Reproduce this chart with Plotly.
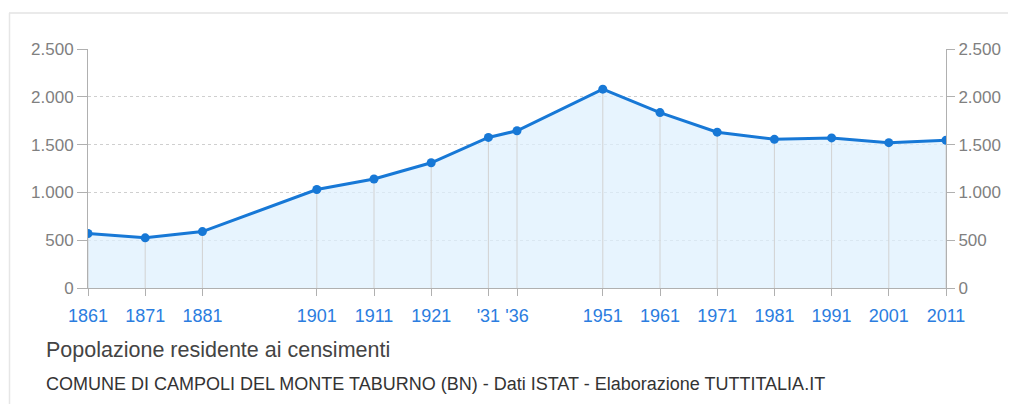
import plotly.graph_objects as go

years = [1861, 1871, 1881, 1901, 1911, 1921, 1931, 1936, 1951, 1961, 1971, 1981, 1991, 2001, 2011]
population = [570, 525, 590, 1030, 1140, 1310, 1575, 1645, 2080, 1835, 1630, 1555, 1570, 1520, 1545]
tick_labels = ["1861", "1871", "1881", "1901", "1911", "1921", "'31", "'36",
               "1951", "1961", "1971", "1981", "1991", "2001", "2011"]
y_ticks = [0, 500, 1000, 1500, 2000, 2500]

title_text = "Popolazione residente ai censimenti"
subtitle_text = "COMUNE DI CAMPOLI DEL MONTE TABURNO (BN) - Dati ISTAT - Elaborazione TUTTITALIA.IT"

line_col = "#1778d6"
fill_col = "rgba(222,240,253,0.72)"
font_family = "Liberation Sans, Arial, Helvetica, sans-serif"

fig = go.Figure()
# filled area
fig.add_trace(go.Scatter(
    x=years, y=population, mode="lines", line=dict(width=0, color=line_col),
    fill="tozeroy", fillcolor=fill_col, hoverinfo="skip", showlegend=False,
))
# vertical drop lines from each point
fig.add_trace(go.Scatter(
    x=years, y=population, mode="markers", marker=dict(size=1, opacity=0),
    error_y=dict(type="data", symmetric=False, array=[0] * len(population),
                 arrayminus=population, color="#d2d2d2", thickness=1, width=0),
    hoverinfo="skip", showlegend=False,
))
# line with markers
fig.add_trace(go.Scatter(
    x=years, y=population, mode="lines+markers",
    line=dict(color=line_col, width=3),
    marker=dict(color=line_col, size=9),
    hoverinfo="x+y", showlegend=False,
))
# helper for right axis
fig.add_trace(go.Scatter(
    x=years, y=population, yaxis="y2", mode="lines",
    line=dict(width=0), opacity=0, hoverinfo="skip", showlegend=False,
))

W, H = 1008, 396
L, T, PW, PH = 80, 41, 858, 239

fig.update_layout(
    width=W, height=H,
    margin=dict(l=L, r=W - L - PW, t=T, b=H - T - PH),
    paper_bgcolor="white", plot_bgcolor="rgba(0,0,0,0)",
    separators=",.",
    font=dict(family=font_family),
    xaxis=dict(
        range=[1861, 2011], tickmode="array", tickvals=years, ticktext=tick_labels,
        showgrid=False,
        showline=True, linecolor="#b0b0b0", linewidth=1,
        ticks="outside", ticklen=7, tickcolor="#b0b0b0",
        ticklabelstandoff=4,
        tickfont=dict(color="#2b7de0", size=18, family=font_family),
        zeroline=False, fixedrange=True,
    ),
    yaxis=dict(
        range=[0, 2500], tickmode="array", tickvals=y_ticks, tickformat=",d",
        showgrid=True, gridcolor="#cfcfcf", griddash="dot", gridwidth=1,
        showline=True, linecolor="#b0b0b0", linewidth=1,
        ticks="outside", ticklen=10, tickcolor="#b0b0b0",
        tickfont=dict(color="#808080", size=17, family=font_family),
        zeroline=False, fixedrange=True,
    ),
    yaxis2=dict(
        range=[0, 2500], tickmode="array", tickvals=y_ticks, tickformat=",d",
        overlaying="y", side="right", showgrid=False,
        showline=True, linecolor="#b0b0b0", linewidth=1,
        ticks="outside", ticklen=8, tickcolor="#b0b0b0",
        tickfont=dict(color="#808080", size=17, family=font_family),
        zeroline=False, fixedrange=True,
    ),
    shapes=[
        dict(type="line", xref="paper", yref="paper",
             x0=-79 / PW, x1=930 / PW, y0=1 + 36 / PH, y1=1 + 36 / PH,
             line=dict(color="#e3e3e3", width=1.5), layer="below"),
        dict(type="line", xref="paper", yref="paper",
             x0=-78.5 / PW, x1=-78.5 / PW, y0=-1.5, y1=1 + 36 / PH,
             line=dict(color="#e6e6e6", width=1.5), layer="below"),
    ],
    annotations=[
        dict(text=title_text, xref="paper", yref="paper", x=-44 / PW, y=-62 / PH,
             xanchor="left", yanchor="middle", showarrow=False,
             font=dict(size=21.5, color="#444444", family=font_family)),
        dict(text=subtitle_text, xref="paper", yref="paper", x=-44 / PW, y=-96 / PH,
             xanchor="left", yanchor="middle", showarrow=False,
             font=dict(size=18, color="#333333", family=font_family)),
    ],
)

fig.write_html("out.html")
